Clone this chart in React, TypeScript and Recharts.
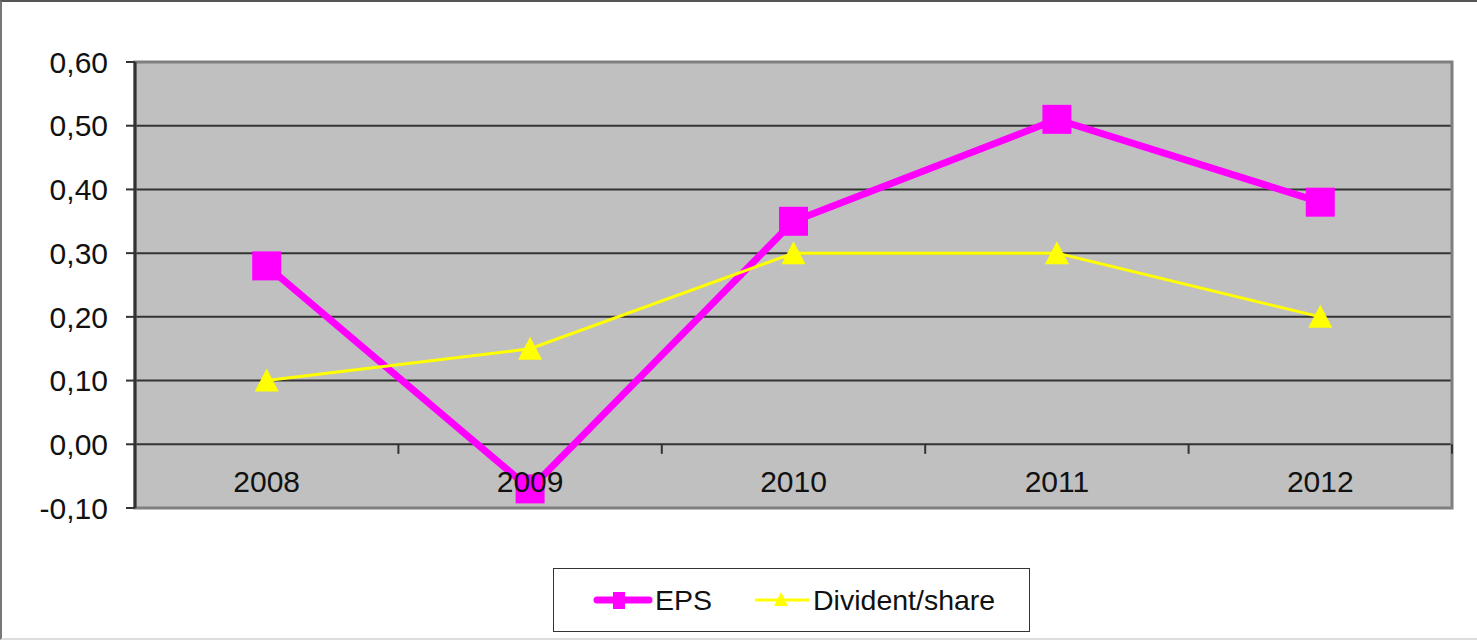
import React from 'react';
import { LineChart, Line, XAxis, YAxis, CartesianGrid, ReferenceLine, ReferenceArea, Legend } from 'recharts';

const years = ['2008', '2009', '2010', '2011', '2012'];
const eps = [0.28, -0.07, 0.35, 0.51, 0.38];
const dividend = [0.1, 0.15, 0.3, 0.3, 0.2];
const yTicks = [-0.1, 0, 0.1, 0.2, 0.3, 0.4, 0.5, 0.6];

// categories sit in the middle of each slot on a 0..5 numeric axis
const data = years.map((year, i) => ({ pos: i + 0.5, year, eps: eps[i], dividend: dividend[i] }));
const slotTicks = data.map((d) => d.pos);
const slotBounds = [1, 2, 3, 4, 5];

const FONT = '"Liberation Sans", Arial, sans-serif';

const SquareDot = (props: any) => {
  const { cx, cy, index } = props;
  return <rect key={`sq-${index}`} x={cx - 14.5} y={cy - 14.5} width={29} height={29} fill="#FF00FF" />;
};

const TriangleDot = (props: any) => {
  const { cx, cy, index } = props;
  return (
    <polygon
      key={`tri-${index}`}
      points={`${cx},${cy - 12} ${cx - 12},${cy + 11} ${cx + 12},${cy + 11}`}
      fill="#FFFF00"
    />
  );
};

const YearTick = (props: any) => {
  const { x, y, payload } = props;
  const label = years[Math.round(payload.value - 0.5)];
  return (
    <text x={x} y={y - 16} textAnchor="middle" fontSize={30} fontFamily={FONT} fill="#111">
      {label}
    </text>
  );
};

const LegendBox = () => (
  <div
    style={{
      boxSizing: 'border-box',
      width: '100%',
      height: '100%',
      border: '1.5px solid #333',
      background: '#fff',
      display: 'flex',
      alignItems: 'center',
      paddingLeft: 39,
      fontFamily: FONT,
      fontSize: 28.5,
      color: '#111',
    }}
  >
    <svg width={60} height={30} style={{ marginRight: 2 }}>
      <line x1={4} y1={15} x2={56} y2={15} stroke="#FF00FF" strokeWidth={7} strokeLinecap="round" />
      <rect x={20} y={7} width={12} height={17} fill="#FF00FF" />
    </svg>
    <span>EPS</span>
    <svg width={56} height={30} style={{ marginLeft: 43, marginRight: 2 }}>
      <line x1={0} y1={15} x2={54} y2={15} stroke="#FFFF00" strokeWidth={3} />
      <polygon points="26,7 19,21 33,21" fill="#FFFF00" />
    </svg>
    <span>Divident/share</span>
  </div>
);

export default function App() {
  return (
    <div style={{ position: 'absolute', left: 0, top: 0, width: 1477, height: 640, background: '#fff' }}>
      <LineChart width={1477} height={640} data={data} margin={{ top: 62, right: 25, bottom: 102, left: 0 }}>
        <CartesianGrid vertical={false} fill="#C0C0C0" stroke="#333" strokeWidth={2} />
        <ReferenceArea
          x1={0}
          x2={5}
          y1={-0.1}
          y2={0.6}
          fill="none"
          fillOpacity={0}
          stroke="#7f7f7f"
          strokeWidth={3}
        />
        {slotBounds.map((b) => (
          <ReferenceLine
            key={b}
            segment={[{ x: b, y: 0 }, { x: b, y: -0.015 }]}
            stroke="#333"
            strokeWidth={2}
          />
        ))}
        <YAxis
          type="number"
          domain={[-0.1, 0.6]}
          ticks={yTicks}
          width={135}
          tickSize={9}
          tickMargin={18}
          interval={0}
          axisLine={{ stroke: '#333', strokeWidth: 3 }}
          tickLine={{ stroke: '#333', strokeWidth: 2 }}
          tick={{ fontSize: 30, fontFamily: FONT, fill: '#111' }}
          tickFormatter={(v: number) => v.toFixed(2).replace('.', ',')}
        />
        <Line
          dataKey="eps"
          name="EPS"
          stroke="#FF00FF"
          strokeWidth={7}
          dot={SquareDot}
          activeDot={false}
          isAnimationActive={false}
        />
        <Line
          dataKey="dividend"
          name="Divident/share"
          stroke="#FFFF00"
          strokeWidth={3}
          dot={TriangleDot}
          activeDot={false}
          isAnimationActive={false}
        />
        <XAxis
          dataKey="pos"
          type="number"
          domain={[0, 5]}
          ticks={slotTicks}
          interval={0}
          height={30}
          axisLine={false}
          tickLine={false}
          tickSize={0}
          tickMargin={0}
          tick={YearTick}
        />
        <Legend
          layout="horizontal"
          verticalAlign="middle"
          content={LegendBox}
          wrapperStyle={{ left: 553, top: 568, width: 477, height: 64 }}
        />
      </LineChart>
      <div
        style={{
          position: 'absolute',
          inset: 0,
          boxSizing: 'border-box',
          borderTop: '2px solid #555',
          borderLeft: '2px solid #777',
          borderBottom: '2px solid #ddd',
          pointerEvents: 'none',
        }}
      />
    </div>
  );
}
